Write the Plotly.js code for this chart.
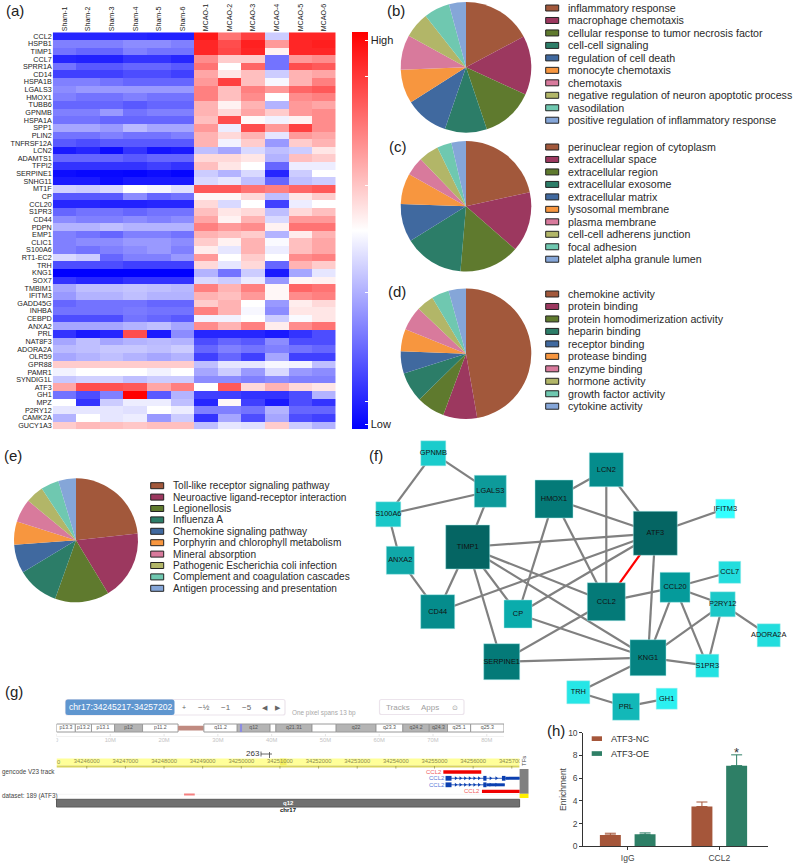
<!DOCTYPE html>
<html>
<head>
<meta charset="utf-8">
<script src="https://cdn.plot.ly/plotly-3.0.1.min.js"></script>
<style>html,body{margin:0;padding:0;background:#fff}</style>
</head>
<body>
<div id="chart" style="width:795px;height:864px"></div>
<script>
const W = 795, H = 864, FONT = '"Liberation Sans", Arial, sans-serif';

// ---------- (a) heatmap ----------
const samples = ['Sham-1','Sham-2','Sham-3','Sham-4','Sham-5','Sham-6','MCAO-1','MCAO-2','MCAO-3','MCAO-4','MCAO-5','MCAO-6'];
const genes = ['CCL2','HSPB1','TIMP1','CCL7','SPRR1A','CD14','HSPA1B','LGALS3','HMOX1','TUBB6','GPNMB','HSPA1A','SPP1','PLIN2','TNFRSF12A','LCN2','ADAMTS1','TFPI2','SERPINE1','SNHG11','MT1F','CP','CCL20','S1PR3','CD44','PDPN','EMP1','CLIC1','S100A6','RT1-EC2','TRH','KNG1','SOX7','TMBIM1','IFITM3','GADD45G','INHBA','CEBPD','ANXA2','PRL','NAT8F3','ADORA2A','OLR59','GPR88','PAMR1','SYNDIG1L','ATF3','GH1','MPZ','P2RY12','CAMK2A','GUCY1A3'];
const expression = [
[-8.5,-8.5,-8.5,-8.5,-8.7,-8.7,9,5.5,7.5,-2,8.5,8.5],
[-5,-5,-5,-4.5,-4.5,-5,8.5,7,8.7,4,8.5,8.8],
[-5.5,-6,-6,-5,-5.5,-5.5,8.5,7.2,8.5,0.5,8.5,8.5],
[-8.5,-8.7,-8.7,-8,-8,-8.5,4.5,2,2,-5.5,4,4.5],
[-5.5,-6.5,-6.5,-6,-6,-6.5,5.5,0,6,-5.5,7,6.5],
[-7.5,-7.5,-7.5,-7,-7,-7.5,3.5,1,2.5,-2,3,3.5],
[-5,-5,-5.5,-6,-6,-6,4,7.5,2.5,-0.3,3,5],
[-4.5,-4,-4,-4,-4,-4,5,2.5,5,4,6,6.5],
[-5,-5.5,-5.5,-5,-5.5,-5.5,5,2.5,4.5,0,4.5,5],
[-6,-6,-6,-6.5,-6,-6,3,0.5,3,-3,4,3.5],
[-5,-5,-4,-5.5,-5,-5,3,1.5,3.5,2,4,4.5],
[-5.5,-5.5,-6,-6,-6,-6,2.5,7,0.2,-0.5,0.5,4.5],
[-3.5,-3.5,-4,-2.7,-3.5,-3.5,4,-0.7,7,4,7.5,4.5],
[-5.5,-5.5,-5,-5.5,-5.5,-5,3,1.5,3,-1,4,3.5],
[-6.5,-7,-6.5,-6.5,-6.5,-6.5,3,-0.5,2,-4,2,3],
[-9,-8.5,-9.5,-8,-9.2,-9,-2.5,-3.5,-1.5,-2.5,-2,1],
[-6,-6,-6,-6.5,-6,-6,1.5,1.5,1,-3,2.5,2],
[-8,-8,-8,-8,-7.5,-8,2.5,1,0,-6,-0.7,-0.7],
[-9.5,-9.7,-9.7,-9.8,-9.5,-9.8,-2,-3,-1.5,-8.5,-2,0],
[-9,-9,-9.5,-9,-9,-9,-1.5,-1,-2.5,-6,-2.5,-2],
[-1.8,-2,-1.5,0,-0.4,-1.2,6.5,6.5,5.5,5,6,6.5],
[-6.5,-6.5,-6.5,-4.5,-6,-5.5,0.3,0.3,1.5,-2.5,1,2],
[-8.5,-8.5,-8.7,-8.7,-8.5,-8.5,1.5,-1.5,0,-7.5,-0.7,0],
[-6,-5.5,-5.5,-6,-5.5,-5.5,2.5,1,1.5,-2.5,1.5,2.5],
[-4.5,-5,-5,-4.5,-5,-4.5,3.5,0.5,3,-1.5,4,4],
[-3,-3,-2.5,-3,-3,-3,5,4,4.5,0.5,5.5,5.5],
[-5,-5.5,-6,-5,-5,-5.5,3,2.5,2,-3,0.7,3],
[-5,-4.5,-4.5,-4,-4,-4.5,2,0.5,3,-0.2,2.5,3.5],
[-5,-5.5,-5,-4.5,-4,-5,0.7,-1,3,-0.7,2.5,3.5],
[-1.5,-2,-6,-5,-5,-4,4,0,2,0,4.5,5],
[-7,-7,-7,-7.5,-7.5,-7.5,1.5,-1,1.5,-6,3,2],
[-10,-10,-10,-10,-10,-10,-3,-5.5,-2,-9,-3.5,-1],
[-8,-8.5,-8.5,-8,-8,-8,-1.5,-2,-0.8,-4,0.3,0.5],
[-3.5,-2.5,-2.5,-2.3,-2.5,-2.8,5,3,5,0.3,6,5.5],
[-4,-3,-3,-2.5,-3,-3,3,2.5,4,0.3,4.5,5],
[-6,-5.5,-5.5,-5.5,-6,-6,2,3,0,-4,0.7,1.5],
[-5.5,-5.5,-5.5,-5.2,-5.5,-5.5,5,3,-0.3,-4.5,1,1],
[-7,-7,-7,-5.5,-6,-6.5,-0.5,-0.5,0,-2,-0.2,1],
[-3.5,-3.5,-3.5,-3,-2.5,-3.5,4.5,3,5,0.7,4.5,5.5],
[-8,-9,-8.5,7,-9,-4.5,-8.5,-8.5,-8.5,-9,-8,-7],
[-3.5,-2.5,-3.5,-3,-2.7,-3,-7,-6,-6.5,-4.5,-7,-7],
[-2.7,-2.5,-2.2,-2.2,-2.5,-2,-6,-5,-5.5,-5,-5.5,-6],
[-3.5,-3,-2.5,-3,-3.5,-3,-7.5,-6,-7.5,-3.5,-7.5,-7.5],
[2,2,2,2,2,2,-2.5,-1,-1,-0.3,-0.5,-2.5],
[-0.5,0,0,0,-0.5,0,-3.5,-2,-4,-1.5,-4,-4.5],
[-2.2,-1.8,-1.8,-2.5,-2,-2,-4.5,-4.5,-5,-4.5,-5,-5],
[3.5,7,6.8,6.5,3.5,5,0,6.5,1.5,3,1.5,1],
[-5.5,-7,-5,10,-6.5,-3,-7.5,-7.5,-8,-8,-7,-3],
[0,-8,-2,-0.7,-0.7,-2.5,-8.5,0.3,-7.5,-9,-7,-8],
[-1,-1,-1,-1.2,0,-0.7,-5,-5,-5.5,-3,-6,-6],
[-3,0,-1,-0.7,-4,-2,-8,-3.5,-7,-3.5,-7,-7.5],
[2,2.7,2.5,2.2,2.5,2.5,-2.5,-1,-1.2,2,-2,-3]
];
const cbarTickVals = [9.6, 7.75, 2.3, -3.1, -8.6, -9.75];
const cbarTickText = ['High', '', '', '', '', 'Low'];

// ---------- (b)-(e) pies ----------
const pieColors = ['#A2583B','#9C385F','#5F7A2E','#2C7D68','#40699F','#F7963F','#D87A9C','#B2B668','#6FC8B0','#85A6D8'];
const bLabels = ['inflammatory response','macrophage chemotaxis','cellular response to tumor necrosis factor','cell-cell signaling','regulation of cell death','monocyte chemotaxis','chemotaxis','negative regulation of neuron apoptotic process','vasodilation','positive regulation of inflammatory response'];
const bValues = [17.2,14.6,13,10.4,10.75,8.4,8.6,6.4,6.4,4.2];
const cLabels = ['perinuclear region of cytoplasm','extracellular space','extracellular region','extracellular exosome','extracellular matrix','lysosomal membrane','plasma membrane','cell-cell adherens junction','focal adhesion','platelet alpha granule lumen'];
const cValues = [21.5,14.9,14.9,14.8,9.4,7.6,4.6,5,3.6,3.6];
const dLabels = ['chemokine activity','protein binding','protein homodimerization activity','heparin binding','receptor binding','protease binding','enzyme binding','hormone activity','growth factor activity','cytokine activity'];
const dValues = [47.2,8.4,7,7.4,5.5,5.5,6,4.3,4.3,4.3];
const eLabels = ['Toll-like receptor signaling pathway','Neuroactive ligand-receptor interaction','Legionellosis','Influenza A','Chemokine signaling pathway','Porphyrin and chlorophyll metabolism','Mineral absorption','Pathogenic Escherichia coli infection','Complement and coagulation cascades','Antigen processing and presentation'];
const eValues = [23.2,18.1,14.1,10.9,7.5,6,6.1,4.7,4.7,4.6];

// ---------- (f) network ----------
const nodeNames = ['GPNMB','LGALS3','S100A6','ANXA2','TIMP1','HMOX1','LCN2','ATF3','IFITM3','CCL7','CCL20','P2RY12','CCL2','CD44','CP','ADORA2A','KNG1','S1PR3','SERPINE1','TRH','PRL','GH1'];
const nodeX = [433.3,490.3,388.3,400.3,467.7,554,606.3,655.3,725.3,729.7,675,722.7,606.3,437.7,518,768.7,648,707.3,501.7,578.3,626,666.7];
const nodeY = [453.3,491.3,514.3,560.3,547,499,469.7,533.3,508.7,572.3,587.3,604.3,601.7,611.7,614,635.3,657.7,665.7,661.7,692.3,706.7,698.7];
const nodeSize = [25,32,25,28,44,38,34,44,19,22,30,25,38,34,28,23,36,23,36,23,27,21];
const nodeColors = ['#1ACCCC','#0D9A9A','#1AC8C8','#10A8A8','#056563','#047A78','#058C8C','#056563','#33FFFF','#22DDDD','#059B9B','#1AC8C8','#047A78','#058C8C','#0AACAC','#22DDDD','#058382','#22E2E2','#047A78','#26E6E6','#12B8B8','#2CF0F0'];
const edges = [['GPNMB','S100A6'],['GPNMB','LGALS3'],['LGALS3','S100A6'],['LGALS3','TIMP1'],['S100A6','ANXA2'],['ANXA2','CD44'],['TIMP1','CD44'],['TIMP1','CP'],['TIMP1','SERPINE1'],['TIMP1','ATF3'],['TIMP1','CCL2'],['TIMP1','KNG1'],['CD44','ATF3'],['CP','ATF3'],['CP','HMOX1'],['CP','KNG1'],['HMOX1','LCN2'],['HMOX1','ATF3'],['HMOX1','CCL2'],['LCN2','CCL2'],['LCN2','ATF3'],['ATF3','IFITM3'],['ATF3','KNG1'],['CCL2','CCL20'],['CCL2','SERPINE1'],['CCL20','CCL7'],['CCL20','P2RY12'],['CCL20','KNG1'],['CCL20','S1PR3'],['P2RY12','ADORA2A'],['P2RY12','S1PR3'],['P2RY12','KNG1'],['KNG1','S1PR3'],['KNG1','SERPINE1'],['KNG1','TRH'],['TRH','PRL'],['PRL','GH1']];
const redEdges = [['ATF3','CCL2']];

// ---------- (g) genome browser ----------
const bandNames = ['p13.3','p13.2','p13.1','p12','p11.2','','q11.2','q12','','q21.31','','q22','q23.3','q24.2','q24.3','q25.1','q25.3'];
const bandStart = [0,3.5,6.5,10.8,16,22.6,27.4,33.6,39.7,40.8,47.5,52,59.4,64.4,69.3,72.7,77];
const bandEnd = [3.5,6.5,10.8,16,22.6,27.4,33.6,39.7,40.8,47.5,52,59.4,64.4,69.3,72.7,77,83.2];
const bandFill = ['#fff','#fff','#fff','#b4b4b4','#fff','#c08a80','#fff','#b4b4b4','#fff','#b4b4b4','#fff','#b4b4b4','#fff','#b4b4b4','#b4b4b4','#fff','#fff'];
const ideoTicks = [0,10,20,30,40,50,60,70,80];
const locusMb = [34.1,34.5];
const rulerBp = [34246000,34247000,34248000,34249000,34250000,34251000,34252000,34253000,34254000,34255000,34256000,34257000];
const redBarsBp = [[34255228,34256210,772],[34256228,34257212,791.4]];
const blueIntrons = [[34255303,34257212,778.3],[34255303,34256818,784.8]];
const blueExons = [[34255285,34255440,778.3],[34256262,34256345,778.3],[34256745,34256836,778.3],[34256836,34257212,778.3],[34255285,34255440,784.8],[34256262,34256345,784.8],[34256345,34256818,784.8]];
const chevronBp = [34255550,34255670,34255790,34255910,34256030,34256150,34256450,34256600];
const peakBp = [34248518,34248795];

// ---------- (h) bars ----------
const groups = ['IgG','CCL2'];
const ncValues = [1.0,3.5], ncErr = [0.15,0.4];
const oeValues = [1.05,7.1], oeErr = [0.13,0.95];
const yTicks = [0,2,4,6,8,10];

// ---------- helpers ----------
const dx = (a,b)=>[a/W,b/W];
const dy = (top,bottom)=>[1-bottom/H,1-top/H];
const shapes = [], annotations = [];
function text(x,y,t,size,color,anchor,extra){
  annotations.push(Object.assign({xref:'x2',yref:'y2',x:x,y:y,text:t,showarrow:false,xanchor:anchor||'left',yanchor:'middle',borderpad:0,
    font:{family:FONT,size:size,color:color||'#333'}},extra||{}));
}
function rect(x0,y0,x1,y1,fill,line,xref,layer){
  shapes.push({type:'rect',xref:xref||'x2',yref:'y2',x0,y0,x1,y1,fillcolor:fill,
    line:line?{color:line,width:1}:{width:0},layer:layer||'above'});
}
function round(x0,y0,x1,y1,r,fill,line){
  const p=`M${x0+r},${y0}L${x1-r},${y0}Q${x1},${y0} ${x1},${y0+r}L${x1},${y1-r}Q${x1},${y1} ${x1-r},${y1}L${x0+r},${y1}Q${x0},${y1} ${x0},${y1-r}L${x0},${y0+r}Q${x0},${y0} ${x0+r},${y0}Z`;
  shapes.push({type:'path',xref:'x2',yref:'y2',path:p,fillcolor:fill,line:line?{color:line,width:1.2}:{width:0},layer:'above'});
}
function pie(labels,values,cx,cy,r){
  return {type:'pie',labels,values,sort:false,direction:'clockwise',rotation:0,textinfo:'none',hoverinfo:'label+value',showlegend:false,
    marker:{colors:pieColors,line:{width:0}},domain:{x:dx(cx-r,cx+r),y:dy(cy-r,cy+r)}};
}
function legendRows(labels,swX,txX,y0,step,size){
  labels.forEach((t,i)=>{
    const y=y0+i*step;
    rect(swX,y-3,swX+13,y+3,pieColors[i],'#222');
    text(txX,y,t,size,'#2a2a2a');
  });
}
const idx = Object.fromEntries(nodeNames.map((n,i)=>[n,i]));
function edgeXY(list){
  const x=[],y=[];
  list.forEach(([a,b])=>{x.push(nodeX[idx[a]],nodeX[idx[b]],null);y.push(nodeY[idx[a]],nodeY[idx[b]],null);});
  return {x,y};
}

// ---------- traces ----------
const traces = [];
traces.push({type:'heatmap',x:samples,y:genes,z:expression,zmin:-10,zmax:10,xaxis:'x',yaxis:'y',hoverongaps:false,
  colorscale:[[0,'#0000FF'],[0.5,'#FFFFFF'],[1,'#FF0000']],
  colorbar:{x:352/W,xanchor:'left',y:1-32.3/H,yanchor:'top',lenmode:'pixels',len:397,thicknessmode:'pixels',thickness:16,xpad:0,ypad:0,
    outlinewidth:0,tickmode:'array',tickvals:cbarTickVals,ticktext:cbarTickText,ticks:'inside',ticklen:3,tickcolor:'#fff',tickwidth:1,
    tickfont:{family:FONT,size:11,color:'#222'}}});
traces.push(pie(bLabels,bValues,466,67.3,65.3));
traces.push(pie(cLabels,cValues,466,206.3,65.3));
traces.push(pie(dLabels,dValues,466,353.7,65.3));
traces.push(pie(eLabels,eValues,76,540.3,62));

const grey = edgeXY(edges), red = edgeXY(redEdges);
traces.push({type:'scatter',mode:'lines',x:grey.x,y:grey.y,xaxis:'x2',yaxis:'y2',line:{color:'#808080',width:2.2},hoverinfo:'skip',showlegend:false});
traces.push({type:'scatter',mode:'lines',x:red.x,y:red.y,xaxis:'x2',yaxis:'y2',line:{color:'#FF0000',width:2.2},hoverinfo:'skip',showlegend:false});
traces.push({type:'scatter',mode:'markers+text',x:nodeX,y:nodeY,text:nodeNames,textposition:'middle center',xaxis:'x2',yaxis:'y2',showlegend:false,
  textfont:{family:FONT,size:7.4,color:'#111'},
  marker:{symbol:'square',opacity:1,size:nodeSize,color:nodeColors,line:{width:0.6,color:'rgba(170,235,235,0.8)'}}});

// genome tracks
traces.push({type:'scatter',mode:'text',x:rulerBp,y:rulerBp.map(()=>762),text:rulerBp.map(String),xaxis:'x3',yaxis:'y2',showlegend:false,hoverinfo:'skip',
  textposition:'middle center',textfont:{family:FONT,size:5.8,color:'#8c8c50'}});
traces.push({type:'scatter',mode:'text',x:ideoTicks,y:ideoTicks.map(()=>740.5),text:ideoTicks.map(v=>v?v+'M':'0'),xaxis:'x4',yaxis:'y2',showlegend:false,hoverinfo:'skip',
  textposition:'middle center',textfont:{family:FONT,size:5.8,color:'#c4c4c4'}});
traces.push({type:'scatter',mode:'text',x:bandStart.map((s,i)=>(s+bandEnd[i])/2),y:bandStart.map(()=>728.2),text:bandNames,xaxis:'x4',yaxis:'y2',showlegend:false,hoverinfo:'skip',
  textposition:'middle center',textfont:{family:FONT,size:5.2,color:'#555'}});
blueIntrons.forEach(([a,b,y])=>{
  traces.push({type:'scatter',mode:'lines',x:[a,b],y:[y,y],xaxis:'x3',yaxis:'y2',showlegend:false,hoverinfo:'skip',line:{color:'#0B3FB0',width:0.8}});
  const ch = chevronBp.filter(v=>v<b-200);
  traces.push({type:'scatter',mode:'markers',x:ch,y:ch.map(()=>y),xaxis:'x3',yaxis:'y2',showlegend:false,hoverinfo:'skip',
    marker:{symbol:'triangle-right',size:3.5,color:'#0B3FB0'}});
});

// bars
traces.push({type:'bar',x:groups,y:ncValues,name:'ATF3-NC',xaxis:'x5',yaxis:'y5',showlegend:false,marker:{color:'#A5563A'},
  error_y:{type:'data',symmetric:false,array:ncErr,arrayminus:[0,0],color:'#A5563A',thickness:1,width:5.5}});
traces.push({type:'bar',x:groups,y:oeValues,name:'ATF3-OE',xaxis:'x5',yaxis:'y5',showlegend:false,marker:{color:'#2E7F66'},
  error_y:{type:'data',symmetric:false,array:oeErr,arrayminus:[0,0],color:'#2E7F66',thickness:1,width:5.5}});

// ---------- page furniture ----------
legendRows(bLabels,545.7,567.3,8,12.47,10.65);
legendRows(cLabels,545.7,567.3,147,12.47,10.65);
legendRows(dLabels,545.7,567.3,294,12.47,10.65);
legendRows(eLabels,150.7,171.7,485.7,11.4,10.1);

[['(a)',5,10],['(b)',386,10],['(c)',388,146],['(d)',387,291],['(e)',3,455],['(f)',368,455],['(g)',4,691],['(h)',546,730]]
  .forEach(([t,x,y])=>text(x,y,t,15,'#222'));

// (g) toolbar
round(65.5,699.5,285,715,2,'#fff','#ece4ec');
round(65.5,699.5,174.5,715,2.5,'#5F96CF');
text(120,707.3,'chr17:34245217-34257202',8.6,'#fff','center');
[['+',184],['−½',204],['−1',226],['−5',247],['◀',265],['▶',278]].forEach(([t,x])=>text(x,707.5,t,t.length>1?8:7,'#666','center'));
text(291,713,'One pixel spans 13 bp',6.4,'#a8a8a8');
round(379.5,699.5,464,714.5,2,'#fff','#ece4ec');
text(398,707,'Tracks',8,'#a0a0a0','center');
text(430,707,'Apps',8,'#a0a0a0','center');
text(455,707.5,'⊙',7,'#a0a0a0','center');

// ideogram
bandStart.forEach((s,i)=>{
  const cen = bandFill[i]==='#c08a80';
  rect(s,cen?725.8:724,bandEnd[i],cen?730.4:732,bandFill[i],cen?null:'#9a9a9a','x4','below');
});
rect(locusMb[0],724,locusMb[1],732,'#8C8CE0',null,'x4','below');
ideoTicks.forEach(v=>shapes.push({type:'line',xref:'x4',yref:'y2',x0:v,x1:v,y0:734,y1:736.5,line:{color:'#dddddd',width:0.8}}));
shapes.push({type:'line',xref:'x4',yref:'y2',x0:0,x1:83.2,y0:736.5,y1:736.5,line:{color:'#e8e8e8',width:0.6}});

// ruler
rect(34245217,758.6,34257202,765.5,'#FFFF99',null,'x3','below');
rect(34245217,765.5,34257202,767.4,'#D9D45E',null,'x3','below');
rect(34251000,758.6,34251170,765.5,'#F4F060',null,'x3','below');
rulerBp.forEach(v=>shapes.push({type:'line',xref:'x3',yref:'y2',x0:v,x1:v,y0:766,y1:768.6,line:{color:'#8c8c40',width:0.7}}));
text(58,762,'0',5.8,'#8c8c50','center');
text(253,753.8,'263',8,'#333','center');
shapes.push({type:'line',xref:'x2',yref:'y2',x0:261,x1:272,y0:754,y1:754,line:{color:'#444',width:0.8}});
shapes.push({type:'line',xref:'x2',yref:'y2',x0:261,x1:261,y0:751.5,y1:756.5,line:{color:'#444',width:0.8}});
shapes.push({type:'line',xref:'x2',yref:'y2',x0:269.5,x1:269.5,y0:752,y1:758,line:{color:'#444',width:0.8}});
text(524,761,'TFs',6,'#444','center',{textangle:-90});
rect(519.6,769,528.5,793.8,'#808080');
rect(519.6,793.8,528.5,798,'#FFF000');

// tracks
text(1,772,'gencode V23 track',6.3,'#444');
text(1,796,'dataset: 189 (ATF3)',6.3,'#444');
redBarsBp.forEach(([a,b,y])=>rect(a,y-1.7,b,y+1.7,'#F00000',null,'x3'));
[[443,772],[481.2,791.4]].forEach(([x,y])=>text(x,y,'CCL2',6,'#F06060','right'));
[[445.5,778.3],[445.5,784.8]].forEach(([x,y])=>text(x,y,'CCL2',6,'#5577D8','right'));
blueExons.forEach(([a,b,y])=>{
  const thin = b-a>300;
  rect(a,y-(thin?1.5:2.4),b,y+(thin?1.5:2.4),'#0B3FB0',null,'x3');
});
shapes.push({type:'line',xref:'x2',yref:'y2',x0:56.5,x1:519.6,y0:794.3,y1:794.3,line:{color:'#f2f2f2',width:0.8},layer:'below'});
rect(peakBp[0],793.6,peakBp[1],795.6,'#F58080',null,'x3');
rect(56.5,799.3,519.6,807,'#707070','#5a5a5a');
text(288,803,'q12',6,'#fff','center',{font:{family:FONT,size:6,color:'#fff',weight:'bold'}});
text(288,809.7,'chr17',6,'#111','center',{font:{family:FONT,size:6,color:'#111',weight:'bold'}});

// (h) legend + star
rect(591.7,736.3,602,741,'#A5563A');
rect(591.7,751.2,602,755.9,'#2E7F66');
text(610,738.6,'ATF3-NC',9.2,'#333');
text(610,753.6,'ATF3-OE',9.2,'#333');
annotations.push({xref:'x5',yref:'y5',x:1.19,y:8.3,text:'*',showarrow:false,yanchor:'middle',font:{family:FONT,size:13,color:'#333'}});

// ---------- layout ----------
const layout = {
  width:W,height:H,margin:{l:0,r:0,t:0,b:0,autoexpand:false},paper_bgcolor:'#fff',plot_bgcolor:'rgba(0,0,0,0)',
  font:{family:FONT,color:'#333'},showlegend:false,
  barmode:'group',bargap:0.242,bargroupgap:0.396,
  xaxis:{domain:dx(52.7,335.7),side:'top',anchor:'y',type:'category',tickmode:'array',tickvals:samples,ticktext:samples,tickangle:-90,ticks:'',showgrid:false,zeroline:false,showline:false,
    tickfont:{family:FONT,size:7.1,color:'#222'}},
  yaxis:{domain:dy(32.3,429.3),anchor:'x',type:'category',autorange:'reversed',tickmode:'array',tickvals:genes,ticktext:genes,ticks:'',showgrid:false,zeroline:false,showline:false,
    tickfont:{family:FONT,size:7.2,color:'#222'}},
  xaxis2:{domain:[0,1],range:[0,W],visible:false,anchor:'y2',fixedrange:true},
  yaxis2:{domain:[0,1],range:[H,0],visible:false,anchor:'x2',fixedrange:true},
  xaxis3:{domain:dx(56.5,519.6),range:[34245217,34257202],visible:false,anchor:'y2',fixedrange:true},
  xaxis4:{domain:dx(56.5,504),range:[0,83.2],visible:false,anchor:'y2',fixedrange:true},
  xaxis5:{domain:dx(583.3,768),range:[-0.485,1.532],type:'category',anchor:'y5',showline:true,linecolor:'#333',linewidth:1,ticks:'outside',ticklen:3,tickcolor:'#333',showgrid:false,zeroline:false,
    tickfont:{family:FONT,size:8.5,color:'#444'}},
  yaxis5:{domain:dy(732.7,846.3),range:[0,10],anchor:'x5',tickmode:'array',tickvals:yTicks,showline:true,linecolor:'#333',linewidth:1,ticks:'outside',ticklen:3,tickcolor:'#333',showgrid:false,zeroline:false,
    tickfont:{family:FONT,size:8.5,color:'#444'},title:{text:'Enrichment',font:{family:FONT,size:8.5,color:'#444'},standoff:0}},
  shapes,annotations
};
Plotly.newPlot('chart',traces,layout,{displayModeBar:false,responsive:false});
</script>
</body>
</html>
